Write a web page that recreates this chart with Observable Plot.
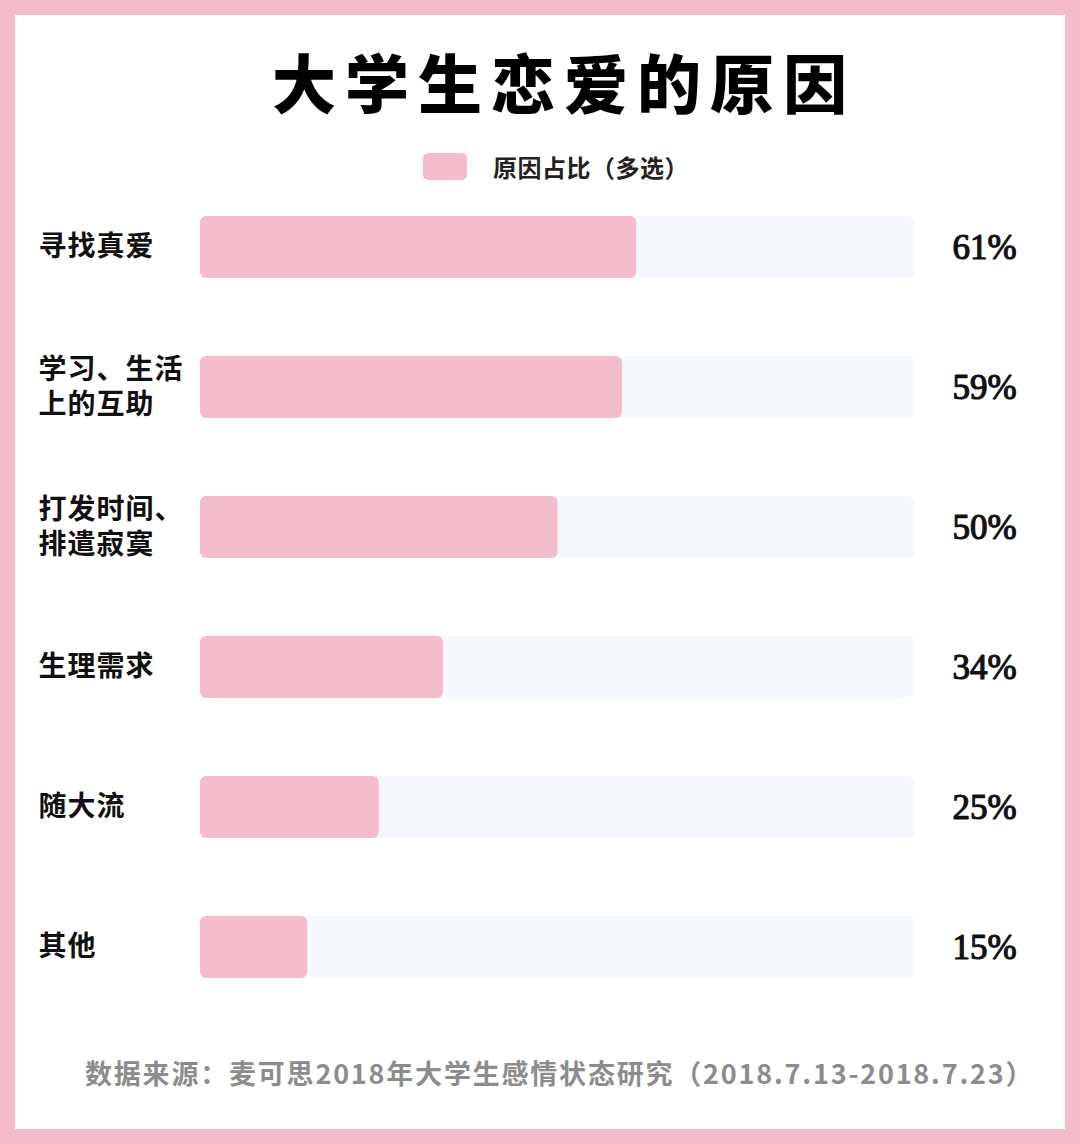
<!DOCTYPE html>
<html><head><meta charset="utf-8">
<script src="https://cdn.jsdelivr.net/npm/d3@7"></script>
<script src="https://cdn.jsdelivr.net/npm/@observablehq/plot@0.6"></script>
<style>
body{margin:0;background:#fff;}
#frame{position:relative;width:1080px;height:1144px;box-sizing:border-box;border:15px solid #f4bccb;background:#fff;overflow:hidden;font-family:"Noto Sans CJK SC","Noto Sans",sans-serif;}
#title{position:absolute;left:257px;top:25px;height:80px;line-height:80px;font-size:64px;font-weight:900;letter-spacing:9px;white-space:nowrap;color:#000;}
#legend{position:absolute;left:408px;top:138px;height:27px;display:flex;align-items:center;}
#legend .sw{width:44px;height:27px;border-radius:5px;background:#f3bdcb;}
#legend .lab{margin-left:26px;font-size:24px;font-weight:700;color:#222;line-height:27px;letter-spacing:0.5px;white-space:nowrap;}
#chart{position:absolute;left:0;top:185px;}
#footer{position:absolute;left:70px;top:1038px;height:40px;line-height:40px;font-size:27px;font-weight:700;color:#8c8c8c;letter-spacing:1.8px;white-space:nowrap;}
g[aria-label="text"].cat text{letter-spacing:1px;}
</style>
</head><body>
<div id="frame">
  <div id="title"></div>
  <div id="legend"><div class="sw"></div><div class="lab"></div></div>
  <div id="chart"></div>
  <div id="footer"></div>
</div>
<script>
const titleText = "大学生恋爱的原因";
const legendLabel = "原因占比（多选）";
const sourceText = "数据来源：麦可思2018年大学生感情状态研究（2018.7.13-2018.7.23）";
const categories = ["寻找真爱", "学习、生活\n上的互助", "打发时间、\n排遣寂寞", "生理需求", "随大流", "其他"];
const values = [61, 59, 50, 34, 25, 15];
const trackMax = 100;

document.getElementById("title").textContent = titleText;
document.querySelector("#legend .lab").textContent = legendLabel;
document.getElementById("footer").textContent = sourceText;

const data = categories.map((c, i) => ({category: c, value: values[i], max: trackMax}));

const plot = Plot.plot({
  width: 1050,
  height: 790,
  marginLeft: 185,
  marginRight: 150,
  marginTop: 16,
  marginBottom: 12,
  style: {background: "transparent", overflow: "visible"},
  x: {domain: [0, trackMax], axis: null},
  y: {domain: categories, axis: null, paddingInner: 0.557, paddingOuter: 0, round: false},
  marks: [
    Plot.barX(data, {y: "category", x1: 0, x2: "max", fill: "#f5f9fe", rx: 6}),
    Plot.barX(data, {y: "category", x1: 0, x2: "value", fill: "#f3bdcb", rx: 6}),
    Plot.text(data, {y: "category", text: "category", frameAnchor: "left", dx: -162, dy: -2, textAnchor: "start",
      fontSize: 28, fontWeight: 700, fill: "#111", lineHeight: 1.22, fontFamily: "Noto Sans CJK SC"}),
    Plot.text(data, {y: "category", text: d => d.value + "%", frameAnchor: "right", dx: 69, textAnchor: "middle",
      fontSize: 35, fontWeight: 400, fill: "#111", stroke: "#111", strokeWidth: 1.2, fontFamily: "Liberation Serif"})
  ]
});
const textGroups = plot.querySelectorAll('g[aria-label="text"]');
if (textGroups[0]) textGroups[0].classList.add("cat");
document.getElementById("chart").appendChild(plot);
</script>
</body></html>
